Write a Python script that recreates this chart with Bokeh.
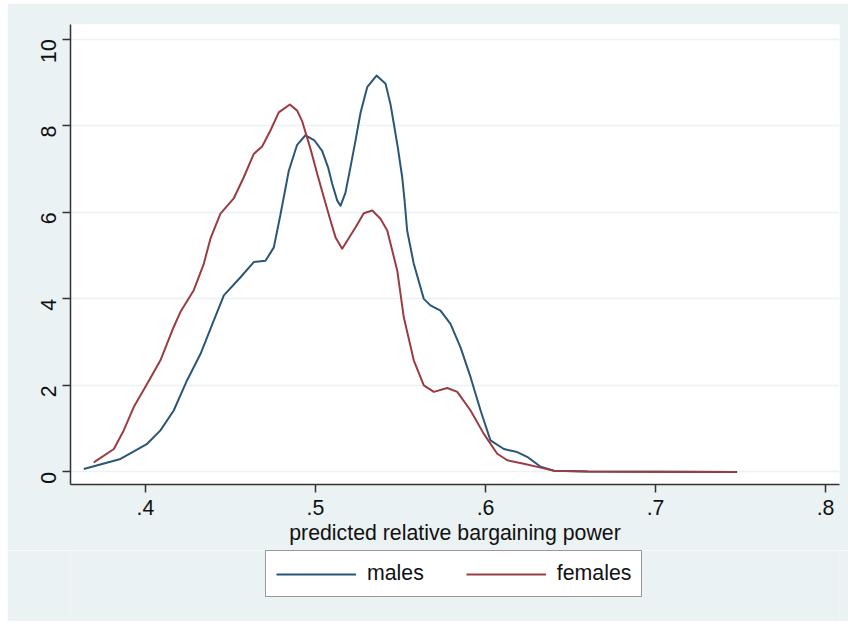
import math
from bokeh.plotting import figure
from bokeh.models import Range1d, FixedTicker, Legend, LegendItem, Spacer
from bokeh.layouts import column, row
from bokeh.embed import file_html
from bokeh.resources import INLINE

# data
males_x = [0.3637, 0.3853, 0.4010, 0.4088, 0.4166, 0.4245, 0.4324, 0.4402, 0.4461,
           0.4559, 0.4637, 0.4706, 0.4755, 0.4794, 0.4843, 0.4892, 0.4941, 0.4994,
           0.5039, 0.5074, 0.5098, 0.5128, 0.5147, 0.5176, 0.5206, 0.5235, 0.5265,
           0.5304, 0.5359, 0.5412, 0.5441, 0.5461, 0.5484, 0.5510, 0.5524, 0.5539,
           0.5578, 0.5637, 0.5676, 0.5735, 0.5794, 0.5853, 0.5912, 0.5971, 0.6029,
           0.6108, 0.6186, 0.6245, 0.6324, 0.6402, 0.6600, 0.7000, 0.7480]
males_y = [0.07, 0.30, 0.65, 0.96, 1.42, 2.12, 2.73, 3.50, 4.08,
           4.50, 4.85, 4.88, 5.19, 5.95, 6.96, 7.56, 7.78, 7.66,
           7.42, 7.04, 6.66, 6.27, 6.15, 6.45, 7.05, 7.65, 8.30,
           8.89, 9.16, 8.97, 8.50, 8.04, 7.50, 6.81, 6.27, 5.58,
           4.81, 4.00, 3.85, 3.73, 3.42, 2.88, 2.19, 1.42, 0.73,
           0.53, 0.46, 0.35, 0.12, 0.03, 0.01, 0.005, 0.0]

females_x = [0.3696, 0.3814, 0.3872, 0.3931, 0.4010, 0.4088, 0.4166, 0.4206, 0.4284,
             0.4343, 0.4382, 0.4441, 0.4519, 0.4578, 0.4637, 0.4686, 0.4735, 0.4784,
             0.4849, 0.4892, 0.4922, 0.4971, 0.5010, 0.5049, 0.5088, 0.5118, 0.5157,
             0.5235, 0.5284, 0.5334, 0.5382, 0.5422, 0.5481, 0.5519, 0.5578, 0.5637,
             0.5696, 0.5775, 0.5834, 0.5912, 0.5990, 0.6069, 0.6128, 0.6225, 0.6324,
             0.6402, 0.6600, 0.7000, 0.7470]
females_y = [0.22, 0.53, 0.96, 1.50, 2.04, 2.58, 3.35, 3.70, 4.20,
             4.81, 5.39, 5.97, 6.32, 6.81, 7.35, 7.52, 7.89, 8.31,
             8.49, 8.35, 8.10, 7.46, 6.89, 6.35, 5.81, 5.42, 5.16,
             5.65, 5.98, 6.04, 5.85, 5.58, 4.65, 3.58, 2.58, 2.00,
             1.85, 1.94, 1.85, 1.42, 0.88, 0.42, 0.27, 0.19, 0.10,
             0.03, 0.01, 0.005, 0.0]

x_ticks = [0.4, 0.5, 0.6, 0.7, 0.8]
x_tick_labels = [".4", ".5", ".6", ".7", ".8"]
y_ticks = [0, 2, 4, 6, 8, 10]
series_names = ["males", "females"]
series_colors = ["#2a5678", "#9b3c42"]

BG = "#eaf2f3"
FONT = "Liberation Sans"
FS = "21.3px"

p = figure(frame_width=769, frame_height=460, output_backend="svg", toolbar_location=None,
           x_range=Range1d(0.3559, 0.8082), y_range=Range1d(-0.29, 10.34),
           min_border_left=63, min_border_right=9, min_border_top=21,
           min_border_bottom=66)
p.background_fill_color = "white"
p.border_fill_color = BG
p.outline_line_color = None

p.line(males_x, males_y, line_color=series_colors[0], line_width=2, line_join="round")
p.line(females_x, females_y, line_color=series_colors[1], line_width=2, line_join="round")

# axes
for ax in (p.xaxis[0], p.yaxis[0]):
    ax.axis_line_color = "#333333"
    ax.axis_line_width = 1.5
    ax.major_tick_line_color = "#333333"
    ax.major_tick_line_width = 1.5
    ax.major_tick_out = 8
    ax.major_tick_in = 0
    ax.minor_tick_line_color = None
    ax.major_label_text_font = FONT
    ax.major_label_text_font_size = FS
    ax.major_label_text_color = "#111111"

p.xaxis.ticker = FixedTicker(ticks=x_ticks)
p.xaxis.major_label_overrides = {t: l for t, l in zip(x_ticks, x_tick_labels)}
p.xaxis.major_label_standoff = 7
p.xaxis.axis_label = "predicted relative bargaining power"
p.xaxis.axis_label_text_font = FONT
p.xaxis.axis_label_text_font_size = FS
p.xaxis.axis_label_text_font_style = "normal"
p.xaxis.axis_label_text_color = "#111111"
p.xaxis.axis_label_standoff = 3

p.yaxis.ticker = FixedTicker(ticks=y_ticks)
p.yaxis.major_label_orientation = math.pi / 2
p.yaxis.major_label_standoff = 14

p.xgrid.grid_line_color = None
p.ygrid.ticker = FixedTicker(ticks=y_ticks)
p.ygrid.grid_line_color = BG
p.ygrid.grid_line_width = 1.5

# legend strip below the chart (its frame is aligned with the chart's frame)
p2 = figure(width=841, height=71, output_backend="svg", toolbar_location=None,
            x_range=Range1d(0, 1), y_range=Range1d(0, 1), min_border=0)
p2.background_fill_color = BG
p2.border_fill_color = BG
p2.outline_line_color = None
p2.xaxis.visible = False
p2.yaxis.visible = False
p2.xgrid.grid_line_color = None
p2.ygrid.grid_line_color = None
# legend proxies: drawn outside the strip's visible range
g1 = p2.line(x=[-10, -9], y=[-10, -10], line_color=series_colors[0], line_width=2)
g2 = p2.line(x=[-10, -9], y=[-10, -10], line_color=series_colors[1], line_width=2)

legend = Legend(items=[LegendItem(label=series_names[0], renderers=[g1]),
                       LegendItem(label=series_names[1], renderers=[g2])],
                orientation="horizontal", location=(195, 24))
legend.label_text_font = FONT
legend.label_text_font_size = FS
legend.label_text_color = "#111111"
legend.glyph_width = 80
legend.glyph_height = 20
legend.label_standoff = 11
legend.spacing = 42
legend.padding = 10
legend.margin = 0
legend.border_line_color = "#333333"
legend.border_line_width = 1.5
legend.background_fill_color = "white"
legend.background_fill_alpha = 1.0
p2.add_layout(legend, "center")

layout = column(Spacer(height=3), row(Spacer(width=7), column(p, p2)))

open("out.html", "w").write(file_html(layout, INLINE))
